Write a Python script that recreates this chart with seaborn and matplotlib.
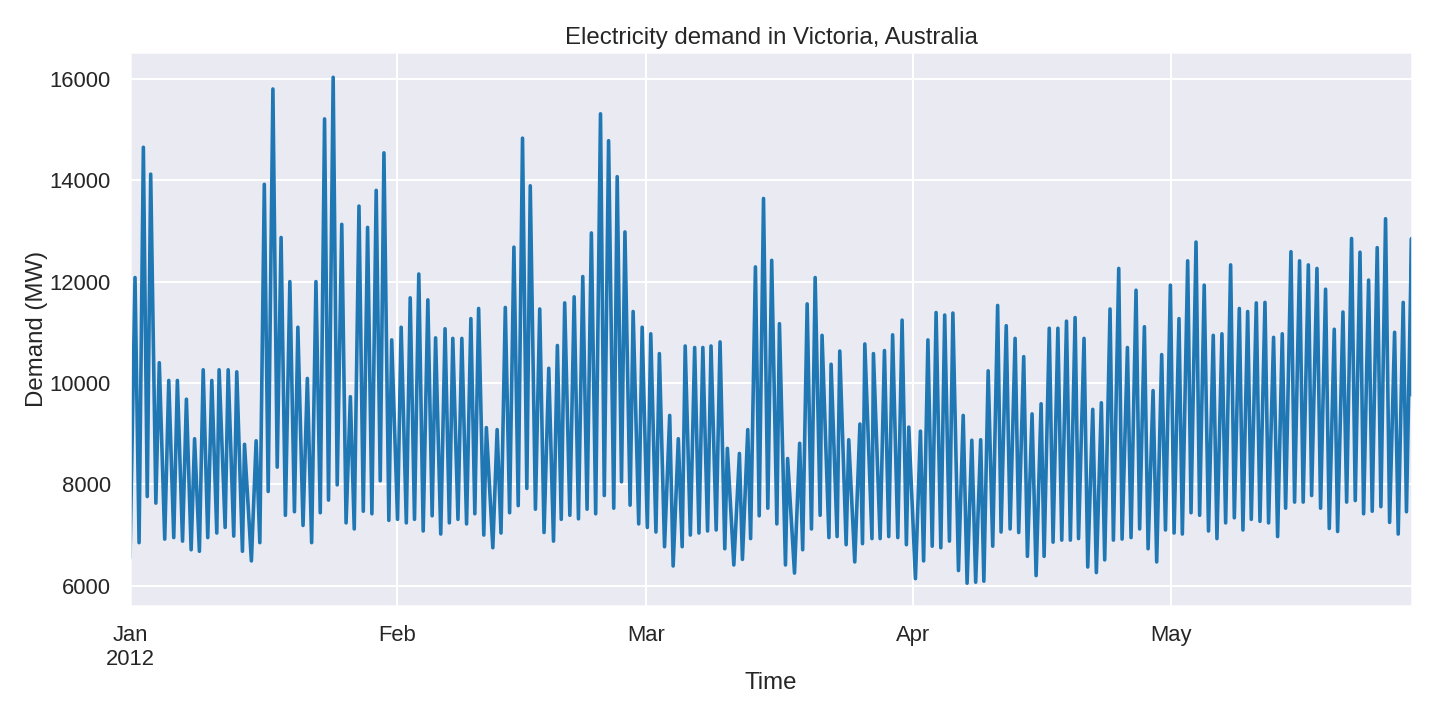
import numpy as np
import pandas as pd
import matplotlib
matplotlib.use("Agg")
import matplotlib.pyplot as plt
import seaborn as sns

# ---- data (day offset since 2012-01-01, demand in MW) ----
jan_days = [0.0, 0.58, 1.05, 1.55, 2.0, 2.4, 3.0, 3.4, 4.03, 4.5, 5.08, 5.5, 6.1, 6.55, 7.1, 7.5,
            8.06, 8.5, 9.03, 9.5, 10.08, 10.35, 11.05, 11.4, 12.05, 12.4, 13.06, 13.3, 14.1, 14.65,
            15.08, 15.6, 16.05, 16.6, 17.1, 17.55, 18.05, 18.57, 19.1, 19.5, 20.1, 20.6, 21.1, 21.6,
            22.1, 22.6, 23.06, 23.6, 24.07, 24.6, 25.1, 25.6, 26.05, 26.6, 27.1, 27.6, 28.1, 28.6,
            29.07, 29.5, 30.07, 30.4, 31.08]
jan_mw = [6550, 12080, 6850, 14650, 7760, 14120, 7630, 10400, 6920, 10050, 6950, 10050, 6880, 9680, 6710, 8900,
          6680, 10260, 6950, 10050, 7040, 10260, 7150, 10260, 6980, 10220, 6680, 8790, 6490, 8860,
          6850, 13920, 7860, 15800, 8340, 12870, 7390, 12000, 7460, 11100, 7190, 10090, 6850, 12000,
          7440, 15210, 7690, 16030, 7990, 13130, 7240, 9730, 7120, 13490, 7470, 13070, 7420, 13800,
          8070, 14540, 7290, 10850, 7310]

feb_days = [31.5, 32.1, 32.55, 33.05, 33.55, 34.06, 34.6, 35.1, 35.5, 36.1, 36.6, 37.1, 37.5, 38.1,
            38.55, 39.1, 39.6, 40.06, 40.5, 41.1, 41.4, 42.15, 42.65, 43.1, 43.6, 44.1, 44.6, 45.1,
            45.6, 46.1, 46.5, 47.1, 47.6, 48.1, 48.65, 49.2, 49.65, 50.1, 50.5, 51.1, 51.6, 52.1,
            52.6, 53.1, 53.6, 54.1, 54.66, 55.1, 55.6, 56.2, 56.6, 57.1, 57.5, 58.1, 58.45, 59.1, 59.5]
feb_mw = [11100, 7240, 11680, 7310, 12150, 7080, 11640, 7380, 10890, 7020, 11070, 7240, 10880, 7310,
          10880, 7220, 11270, 7420, 11470, 7000, 9120, 6750, 9080, 7040, 11490, 7440, 12680, 7580,
          14830, 7920, 13890, 7510, 11460, 7050, 10290, 6880, 10740, 7310, 11580, 7390, 11700, 7320,
          12100, 7510, 12960, 7420, 15310, 7780, 14780, 7530, 14070, 8050, 12980, 7590, 11410, 7220, 11100]

mar_days = [60.1, 60.5, 61.1, 61.5, 62.1, 62.7, 63.1, 63.7, 64.15, 64.5, 65.1, 65.6, 66.1, 66.55,
            67.1, 67.5, 68.1, 68.55, 69.1, 69.4, 70.15, 70.8, 71.15, 71.77, 72.1, 72.66, 73.1, 73.6,
            74.1, 74.55, 75.15, 75.45, 76.15, 76.4, 77.2, 77.8, 78.15, 78.67, 79.17, 79.6, 80.18, 80.4,
            81.2, 81.45, 82.15, 82.46, 83.2, 83.5, 84.2, 84.8, 85.1, 85.37, 86.2, 86.37, 87.15, 87.65,
            88.15, 88.6, 89.2, 89.7, 90.2, 90.48]
mar_mw = [7150, 10970, 7060, 10580, 6770, 9360, 6390, 8900, 6770, 10730, 7000, 10700, 7040, 10700,
          7080, 10730, 7100, 10810, 6730, 8710, 6410, 8610, 6520, 9080, 6930, 12290, 7380, 13640,
          7530, 12420, 7220, 11170, 6410, 8510, 6250, 8810, 6710, 11560, 7120, 12080, 7390, 10940,
          6950, 10370, 6970, 10630, 6810, 8880, 6470, 9190, 6830, 10770, 6930, 10580, 6930, 10640,
          6970, 10950, 6950, 11240, 6810, 9130]

apr_days = [91.25, 91.83, 92.2, 92.7, 93.2, 93.65, 94.2, 94.65, 95.2, 95.6, 96.25, 96.8, 97.25, 97.8,
            98.25, 98.83, 99.2, 99.7, 100.23, 100.8, 101.2, 101.8, 102.25, 102.83, 103.25, 103.83,
            104.26, 104.8, 105.27, 105.85, 106.2, 106.8, 107.24, 107.8, 108.25, 108.8, 109.25, 109.8,
            110.2, 110.84, 111.27, 111.85, 112.27, 112.85, 113.24, 113.86, 114.25, 114.87, 115.26,
            115.88, 116.3, 116.88, 117.3, 117.85, 118.28, 118.86, 119.28, 119.86, 120.3, 120.87]
apr_mw = [6140, 9050, 6490, 10850, 6780, 11390, 6750, 11340, 6880, 11380, 6300, 9360, 6050, 8870,
          6070, 8880, 6090, 10240, 6780, 11530, 7060, 11130, 7120, 10880, 7050, 10520,
          6580, 9390, 6200, 9590, 6580, 11080, 6860, 11080, 6900, 11220, 6900, 11290,
          6930, 10880, 6370, 9480, 6260, 9610, 6510, 11460, 6900, 12260, 6920,
          10700, 6950, 11830, 7120, 11110, 6730, 9850, 6470, 10560, 7100, 11930]

may_days = [121.3, 121.87, 122.26, 122.88, 123.27, 123.85, 124.27, 124.8, 125.3, 125.85, 126.28, 126.86,
            127.29, 127.87, 128.3, 128.88, 129.3, 129.85, 130.27, 130.85, 131.28, 131.86, 132.28, 132.86,
            133.33, 133.87, 134.26, 134.88, 135.3, 135.88, 136.3, 136.9, 137.28, 137.9, 138.32, 138.9,
            139.33, 139.91, 140.3, 140.92, 141.35, 141.92, 142.35, 142.9, 143.32, 143.9, 144.32, 144.9,
            145.33, 145.87, 146.34, 146.92, 147.34, 147.92, 148.3, 148.89, 148.95]
may_mw = [7040, 11270, 7020, 12410, 7440, 12780, 7390, 11930, 7080, 10940, 6930, 10970,
          7240, 12330, 7340, 11470, 7100, 11410, 7310, 11580, 7270, 11590, 7240, 10900,
          6970, 10970, 7530, 12590, 7650, 12410, 7650, 12330, 7780, 12260, 7530, 11850,
          7130, 11060, 7070, 11400, 7650, 12850, 7680, 12580, 7420, 12030, 7470, 12670,
          7560, 13240, 7250, 11000, 7020, 11590, 7460, 12850, 9760]

month_ticks = ["2012-01-01", "2012-02-01", "2012-03-01", "2012-04-01", "2012-05-01"]
month_labels = ["Jan\n2012", "Feb", "Mar", "Apr", "May"]
y_ticks = [6000, 8000, 10000, 12000, 14000, 16000]

# ---- build frame ----
days = np.concatenate([jan_days, feb_days, mar_days, apr_days, may_days])
mw = np.concatenate([jan_mw, feb_mw, mar_mw, apr_mw, may_mw])
start = pd.Timestamp("2012-01-01")
time = start + pd.to_timedelta(days, unit="D")
df = pd.DataFrame({"Time": time, "Demand": mw})

# ---- style ----
sns.set_theme(style="darkgrid")
plt.rcParams["font.family"] = ["Liberation Sans", "DejaVu Sans"]

fig, ax = plt.subplots(figsize=(10, 5), dpi=144)
fig.subplots_adjust(left=0.0903, right=0.9806, top=0.9278, bottom=0.1583)

sns.lineplot(data=df, x="Time", y="Demand", ax=ax, color="#1f77b4", linewidth=1.8)

ax.set_xlim(df["Time"].iloc[0], df["Time"].iloc[-1])
ax.set_ylim(5600, 16530)
ax.set_xticks(pd.to_datetime(month_ticks))
ax.set_xticklabels(month_labels)
ax.set_yticks(y_ticks)
ax.set_yticklabels([str(v) for v in y_ticks])

ax.set_title("Electricity demand in Victoria, Australia", pad=4)
ax.set_xlabel("Time", labelpad=1)
ax.set_ylabel("Demand (MW)", labelpad=1)

fig.savefig("out.png", dpi=144)
